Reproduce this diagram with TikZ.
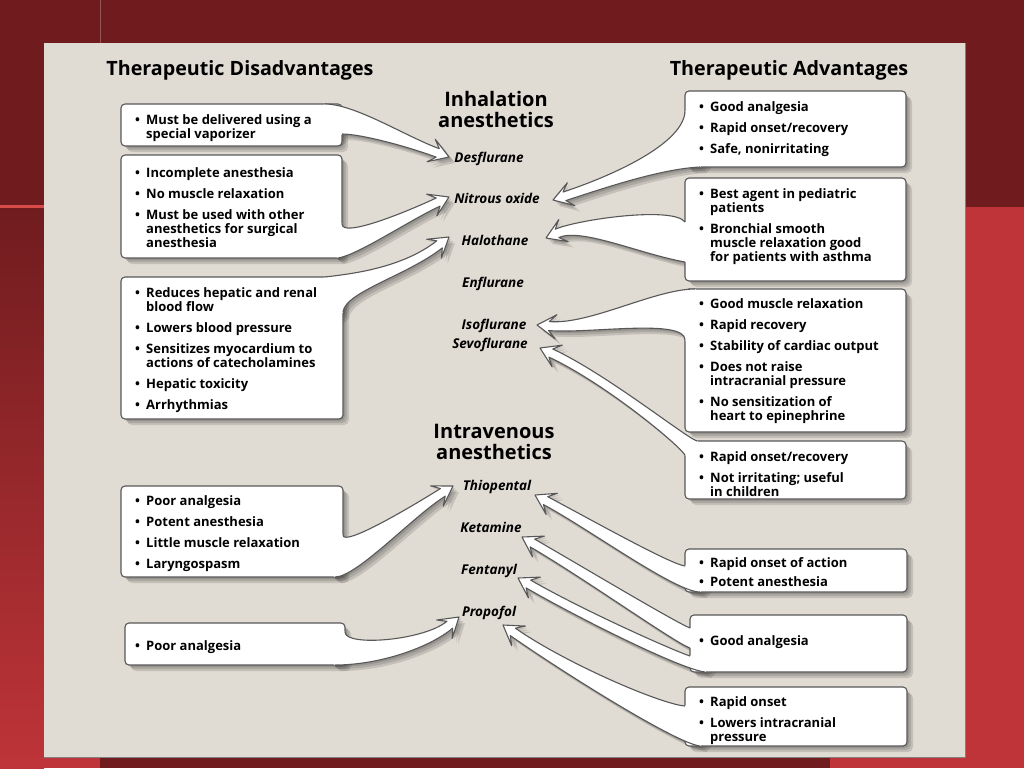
\documentclass[tikz,border=0pt]{standalone}
\usepackage{fontspec}
\setmainfont{Open Sans}
\usetikzlibrary{calc}
\pgfdeclarelayer{bg}
\pgfdeclarelayer{shad}
\pgfsetlayers{bg,shad,main}
\definecolor{darkred}{RGB}{112,28,31}
\definecolor{brightred}{RGB}{190,52,56}
\definecolor{lightline}{RGB}{214,76,72}
\definecolor{panel}{RGB}{224,219,211}
\definecolor{edge}{RGB}{88,88,88}
\tikzset{
  card/.style={fill=white, draw=edge, line width=1.1pt, rounded corners=4pt},
  itemtext/.style={anchor=base west, inner sep=0pt, font=\bfseries\fontsize{13}{14}\selectfont},
  drug/.style={anchor=base, inner sep=0pt, font=\bfseries\itshape\fontsize{13.5}{14}\selectfont},
  headline/.style={anchor=base, inner sep=0pt, font=\bfseries\fontsize{19.7}{21}\selectfont},
  subhead/.style={anchor=base, inner sep=0pt, font=\bfseries\fontsize{20}{21}\selectfont},
  arrowline/.style={draw=edge, line width=1.1pt, line join=round},
  shadowfill/.style={fill=black, opacity=0.12}
}
\newcommand\bl{\makebox[11pt][l]{\textbullet}}
\newcommand\ind{\hspace*{11pt}}
\newcommand\cardbox[2]{%
  \begin{pgfonlayer}{shad}
    \foreach \s in {2,4,6}{\fill[shadowfill, rounded corners=5pt] ($(#1)+(\s,\s)$) rectangle ($(#2)+(\s,\s)$);}
  \end{pgfonlayer}
  \draw[card] (#1) rectangle (#2);
}
% #1 A, #2 A control, #3 tip, #4 angle, #5 handle, #6 B, #7 B control, #8 inward
\newcommand\fatarrow[8]{%
  \coordinate (fa1) at ($(#3)+(#4+180:12)+(#4-90:4.5)$);
  \coordinate (fa2) at ($(#3)+(#4+180:19)+(#4-90:12)$);
  \coordinate (fa3) at ($(#3)+(#4+180:19)+(#4+90:12)$);
  \coordinate (fa4) at ($(#3)+(#4+180:12)+(#4+90:4.5)$);
  \coordinate (fa5) at ($(#1)+(#8)$);
  \coordinate (fa6) at ($(#6)+(#8)$);
  \begin{pgfonlayer}{shad}
    \foreach \s in {2,4,6}{\fill[shadowfill, transform canvas={shift={(\s pt,-\s pt)}}] (#1) .. controls +(#2) and +(#4+180:#5) .. (fa1) -- (fa2) -- (#3) -- (fa3) -- (fa4) .. controls +(#4+180:#5) and +(#7) .. (#6) -- (fa6) -- (fa5) -- cycle;}
  \end{pgfonlayer}
  \fill[white] (#1) .. controls +(#2) and +(#4+180:#5) .. (fa1) -- (fa2) -- (#3) -- (fa3) -- (fa4) .. controls +(#4+180:#5) and +(#7) .. (#6) -- (fa6) -- (fa5) -- cycle;
  \draw[arrowline] (#1) .. controls +(#2) and +(#4+180:#5) .. (fa1) -- (fa2) -- (#3) -- (fa3) -- (fa4) .. controls +(#4+180:#5) and +(#7) .. (#6);
}
\begin{document}
\begin{tikzpicture}[x=1pt,y=-1pt]
\useasboundingbox (0,0) rectangle (1024,768);
% background
\begin{pgfonlayer}{bg}
  \fill[darkred] (0,0) rectangle (1024,768);
  \fill[brightred] (965,207) rectangle (1024,768);
  \shade[top color=darkred, bottom color=brightred] (0,207) rectangle (44,768);
  \fill[brightred] (0,757) rectangle (100,768);
  \fill[brightred] (830,757) rectangle (1024,768);
  \fill[lightline] (0,205) rectangle (44,207.5);
  \draw[darkred!75!white, line width=0.8pt] (100,0) -- (100,43);
  \fill[panel] (44,43) rectangle (965,757);
  \draw[gray, line width=1pt] (44,757) -- (965,757) -- (965,43);
\end{pgfonlayer}

% headings
\node[headline] (hdis) at (240,75) {Therapeutic Disadvantages};
\node[headline] (hadv) at (789,75) {Therapeutic Advantages};
\node[subhead] (hinh) at (496,106) {\begin{tabular}[t]{@{}c@{}}Inhalation\\anesthetics\end{tabular}};
\node[subhead] (hiv) at (494,438) {\begin{tabular}[t]{@{}c@{}}Intravenous\\anesthetics\end{tabular}};

% drug labels
\node[drug] (desf) at (489,162) {Desflurane};
\node[drug] (nitr) at (497,203) {Nitrous oxide};
\node[drug] (halo) at (495,245) {Halothane};
\node[drug] (enfl) at (493,287) {Enflurane};
\node[drug] (isof) at (494,329) {Isoflurane};
\node[drug] (sevo) at (490,348) {Sevoflurane};
\node[drug] (thio) at (497,490) {Thiopental};
\node[drug] (keta) at (491,532) {Ketamine};
\node[drug] (fent) at (489,574) {Fentanyl};
\node[drug] (prop) at (489,616) {Propofol};

% boxes
\cardbox{121,104}{342,146}
\cardbox{121,155}{342,258}
\cardbox{121,277}{343,419}
\cardbox{121,486}{343,577}
\cardbox{125,623}{345,665}
\cardbox{685,91}{906,167}
\cardbox{685,178}{906,281}
\cardbox{685,289}{906,432}
\cardbox{685,441}{906,499}
\cardbox{685,549}{907,592}
\cardbox{690,615}{907,672}
\cardbox{685,687}{907,746}

% arrows, left side
\fatarrow{325,104}{30,0}{449,157}{20}{35}{342,134}{18,0}{-6,6}
\fatarrow{342,224}{0,14}{449,197}{-25}{35}{338,258}{20,-3}{-6,-4}
\fatarrow{325,277}{25,-3}{449,237}{-38}{45}{343,312}{2,-20}{-6,6}
\fatarrow{343,535}{0,12}{453,486}{-32}{38}{335,577}{22,0}{-6,-4}
\fatarrow{345,632}{0,15}{459,617}{-40}{30}{335,665}{45,0}{-6,-4}
% arrows, right side
\fatarrow{700,167}{-40,2}{553,200}{162}{40}{685,112}{-3,35}{6,-6}
\fatarrow{685,262}{-45,-8}{546,238}{157}{25}{685,222}{-12,-16}{6,0}
\fatarrow{685,340}{0,-22}{537,325}{185}{40}{695,289}{-40,0}{6,6}
\fatarrow{685,455}{-8,-12}{540,348}{205}{60}{697,441}{-12,-4}{6,6}
\fatarrow{700,592}{-25,0}{535,495}{208}{50}{685,566}{-15,-2}{6,-6}
\fatarrow{690,648}{-15,-5}{522,537}{210}{60}{690,628}{-15,-6}{6,0}
\fatarrow{705,672}{-25,-3}{518,578}{210}{60}{690,656}{-18,-6}{6,-6}
\fatarrow{700,746}{-25,-3}{503,625}{215}{60}{685,706}{-25,-2}{6,-6}

% box texts, left
\node[itemtext] (tL1) at (135,124) {\begin{tabular}[t]{@{}l@{}}\bl Must be delivered using a\\ \ind special vaporizer\end{tabular}};
\node[itemtext] (tL2) at (135,177) {\begin{tabular}[t]{@{}l@{}}\bl Incomplete anesthesia\\[7pt] \bl No muscle relaxation\\[7pt] \bl Must be used with other\\ \ind anesthetics for surgical\\ \ind anesthesia\end{tabular}};
\node[itemtext] (tL3) at (135,297) {\begin{tabular}[t]{@{}l@{}}\bl Reduces hepatic and renal\\ \ind blood flow\\[7pt] \bl Lowers blood pressure\\[7pt] \bl Sensitizes myocardium to\\ \ind actions of catecholamines\\[7pt] \bl Hepatic toxicity\\[7pt] \bl Arrhythmias\end{tabular}};
\node[itemtext] (tL4) at (135,505) {\begin{tabular}[t]{@{}l@{}}\bl Poor analgesia\\[7pt] \bl Potent anesthesia\\[7pt] \bl Little muscle relaxation\\[7pt] \bl Laryngospasm\end{tabular}};
\node[itemtext] (tL5) at (135,650) {\bl Poor analgesia};

% box texts, right
\node[itemtext] (tR1) at (699,111) {\begin{tabular}[t]{@{}l@{}}\bl Good analgesia\\[7pt] \bl Rapid onset/recovery\\[7pt] \bl Safe, nonirritating\end{tabular}};
\node[itemtext] (tR2) at (699,198) {\begin{tabular}[t]{@{}l@{}}\bl Best agent in pediatric\\ \ind patients\\[7pt] \bl Bronchial smooth\\ \ind muscle relaxation good\\ \ind for patients with asthma\end{tabular}};
\node[itemtext] (tR3) at (699,308) {\begin{tabular}[t]{@{}l@{}}\bl Good muscle relaxation\\[7pt] \bl Rapid recovery\\[7pt] \bl Stability of cardiac output\\[7pt] \bl Does not raise\\ \ind intracranial pressure\\[7pt] \bl No sensitization of\\ \ind heart to epinephrine\end{tabular}};
\node[itemtext] (tR4) at (699,461) {\begin{tabular}[t]{@{}l@{}}\bl Rapid onset/recovery\\[7pt] \bl Not irritating; useful\\ \ind in children\end{tabular}};
\node[itemtext] (tR5) at (699,567) {\begin{tabular}[t]{@{}l@{}}\bl Rapid onset of action\\[5pt] \bl Potent anesthesia\end{tabular}};
\node[itemtext] (tR6) at (699,645) {\bl Good analgesia};
\node[itemtext] (tR7) at (699,706) {\begin{tabular}[t]{@{}l@{}}\bl Rapid onset\\[7pt] \bl Lowers intracranial\\ \ind pressure\end{tabular}};
\end{tikzpicture}
\end{document}
